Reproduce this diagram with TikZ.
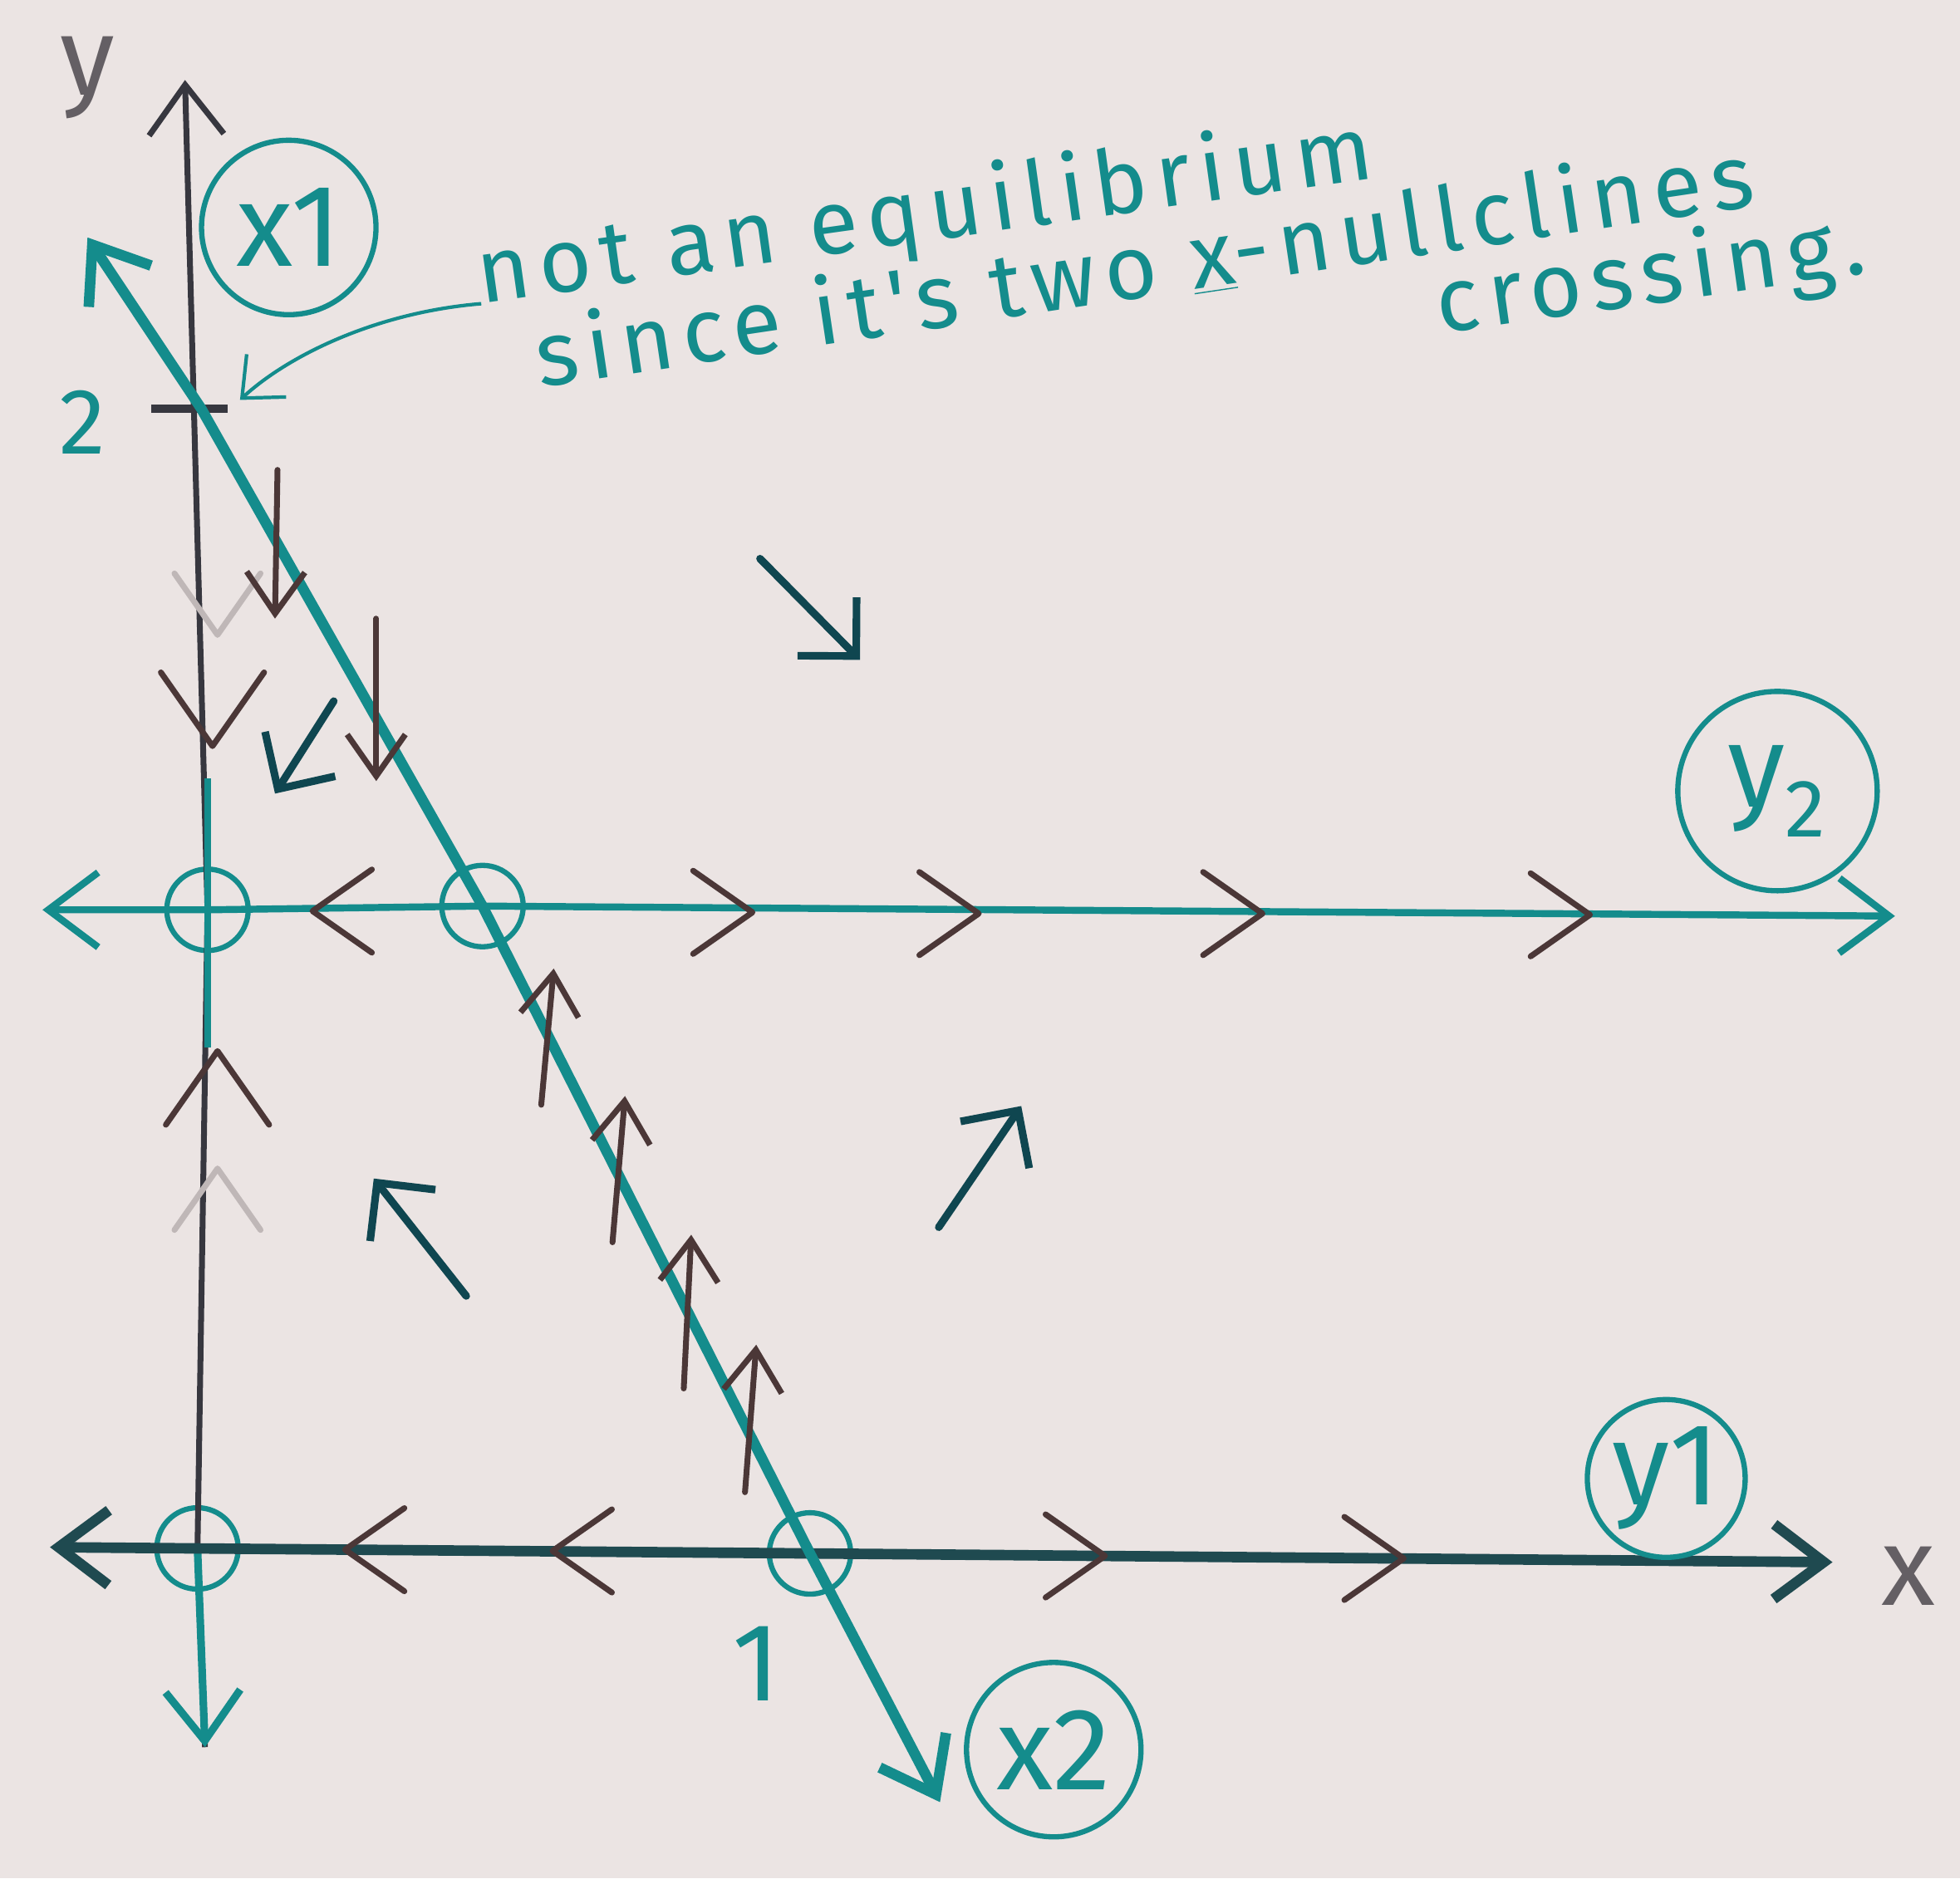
\documentclass[tikz,border=0pt]{standalone}
\usepackage{fontspec}
\newfontfamily\handfont{Fira Sans}
\newfontfamily\notefont[LetterSpace=10]{Fira Sans}
\usetikzlibrary{arrows.meta}

\definecolor{paper}{HTML}{EBE4E3}
\definecolor{ink}{HTML}{148C8C}
\definecolor{darkink}{HTML}{0F4650}
\definecolor{axisink}{HTML}{1F4A50}
\definecolor{pencil}{HTML}{37373F}
\definecolor{brownink}{HTML}{4B3737}
\definecolor{greyink}{HTML}{645F64}
\definecolor{faint}{HTML}{BFB7B7}

\tikzset{
  barb/.tip={Straight Barb[length=6mm,width=9mm]},
  nullc/.style={ink, line width=3.6pt, line cap=round, barb-barb},
  axisl/.style={pencil, line width=2pt},
  chev/.style={brownink, line width=2pt, line cap=round, line join=round},
  drift/.style={brownink, line width=2pt, line cap=round, -{Straight Barb[length=5mm,width=7mm]}},
  flow/.style={darkink, line width=2.6pt, line cap=round, -{Straight Barb[length=5mm,width=10mm]}},
  eqcirc/.style={circle, draw=ink, line width=1.8pt, minimum size=0.98cm, inner sep=0pt},
  tag/.style={circle, draw=ink, line width=1.8pt, minimum size=2.1cm, inner sep=0pt,
    text=ink, font=\handfont\fontsize{40}{40}\selectfont},
  hand/.style={text=ink, font=\handfont\fontsize{38}{40}\selectfont, inner sep=0pt},
  note/.style={text=ink, font=\notefont\fontsize{31}{34}\selectfont, inner sep=0pt},
  axlab/.style={text=greyink, font=\handfont\fontsize{38}{40}\selectfont}
}

\begin{document}
\begin{tikzpicture}[x=0.015045cm, y=-0.015045cm]

% papier
\fill[paper] (0,0) rectangle (1568,1503);
\useasboundingbox (0,0) rectangle (1568,1503);

% ujung-ujung garis
\coordinate (yTop) at (148,64);
\coordinate (yBot) at (164,1398);
\coordinate (xLeft) at (40,1238);
\coordinate (xRight) at (1466,1250);
\coordinate (yyLeft) at (34,728);
\coordinate (yyRight) at (1516,733);
\coordinate (dTop) at (70,190);
\coordinate (dBot) at (752,1442);
\coordinate (twoPt) at (161,327);
\coordinate (noteTip) at (192,320);

% --- titik kesetimbangan ---
\node[eqcirc] (eqA) at (166,728) {};
\node[eqcirc] (eqB) at (386,725) {};
\node[eqcirc] (eqO) at (158,1239) {};
\node[eqcirc] (eqC) at (648,1243) {};

% --- sumbu y (x1) ---
\draw[axisl, -barb] (yBot) -- (eqO.center) -- (eqA.center) -- (yTop);
\draw[ink, line width=2.4pt] (eqA.center) ++(0,-105) -- ++(0,215);
\draw[ink, line width=2.6pt, -barb] (eqO.center) -- (yBot);
\draw[pencil, line width=3pt] (twoPt) ++(-40,0) -- ++(61,0);

% --- sumbu x (y1) ---
\draw[axisink, line width=3.6pt, barb-barb] (xLeft) -- (eqO.center) -- (eqC.center) -- (xRight);

% --- garis y2 ---
\draw[ink, line width=2.4pt, barb-barb] (yyLeft) -- (eqA.center) -- (eqB.center) -- (yyRight);

% --- garis x2 ---
\draw[nullc] (dTop) -- (twoPt) -- (eqB.center) -- (eqC.center) -- (dBot);

% label lingkaran
\node[tag] (tx1) at (231,182) {x1};
\node[tag, minimum size=2.4cm] (ty2) at (1422,633) {y\textsubscript{2}};
\node[tag, minimum size=1.9cm] (ty1) at (1333,1183) {y1};
\node[tag] (tx2) at (843,1400) {x2};

% label sumbu
\node[axlab] (ylab) at (70,62) {y};
\node[axlab] (xlab) at (1527,1261) {x};
\node[hand, font=\handfont\fontsize{32}{32}\selectfont] (two) at (66,338) {2};
\node[hand] (one) at (605,1331) {1};

% catatan
\node[note, anchor=base west, rotate=8] (note1) at (385,243) {not an equilibrium};
\node[note, anchor=base west, rotate=8.5] (note2) at (432,310) {since it's two \underline{x}-nullclines};
\node[note, anchor=base west, rotate=8] (note3) at (1152,267) {crossing.};
\draw[ink, line width=1.2pt, -{Straight Barb[length=4mm,width=7mm]}]
  (note1.base west) .. controls (300,250) and (230,285) .. (noteTip);

% arah aliran pada nullcline
\foreach \px/\py/\d/\l in {170/597/90/72, 174/841/-90/72,
    250/729/180/58, 602/730/0/58, 783/731/0/58, 1010/731/0/58, 1272/732/0/58,
    276/1240/180/58, 442/1241/180/58, 884/1245/0/58, 1123/1247/0/58}
  \draw[chev] (\px,\py) ++({\d+145}:\l) -- (\px,\py) -- ++({\d-145}:\l);

\foreach \px/\py/\d in {174/508/90, 174/935/-90}
  \draw[chev, faint] (\px,\py) ++({\d+145}:60) -- (\px,\py) -- ++({\d-145}:60);

\foreach \ax/\ay/\bx/\by in {222/376/220/495, 301/495/301/625,
    433/884/443/775, 490/994/500/877, 547/1111/553/988, 596/1194/605/1076}
  \draw[drift] (\ax,\ay) -- (\bx,\by);

% arah di daerah
\foreach \ax/\ay/\bx/\by in {608/447/688/528, 267/561/220/635,
    373/1037/299/943, 751/982/817/885}
  \draw[flow] (\ax,\ay) -- (\bx,\by);

\end{tikzpicture}
\end{document}
